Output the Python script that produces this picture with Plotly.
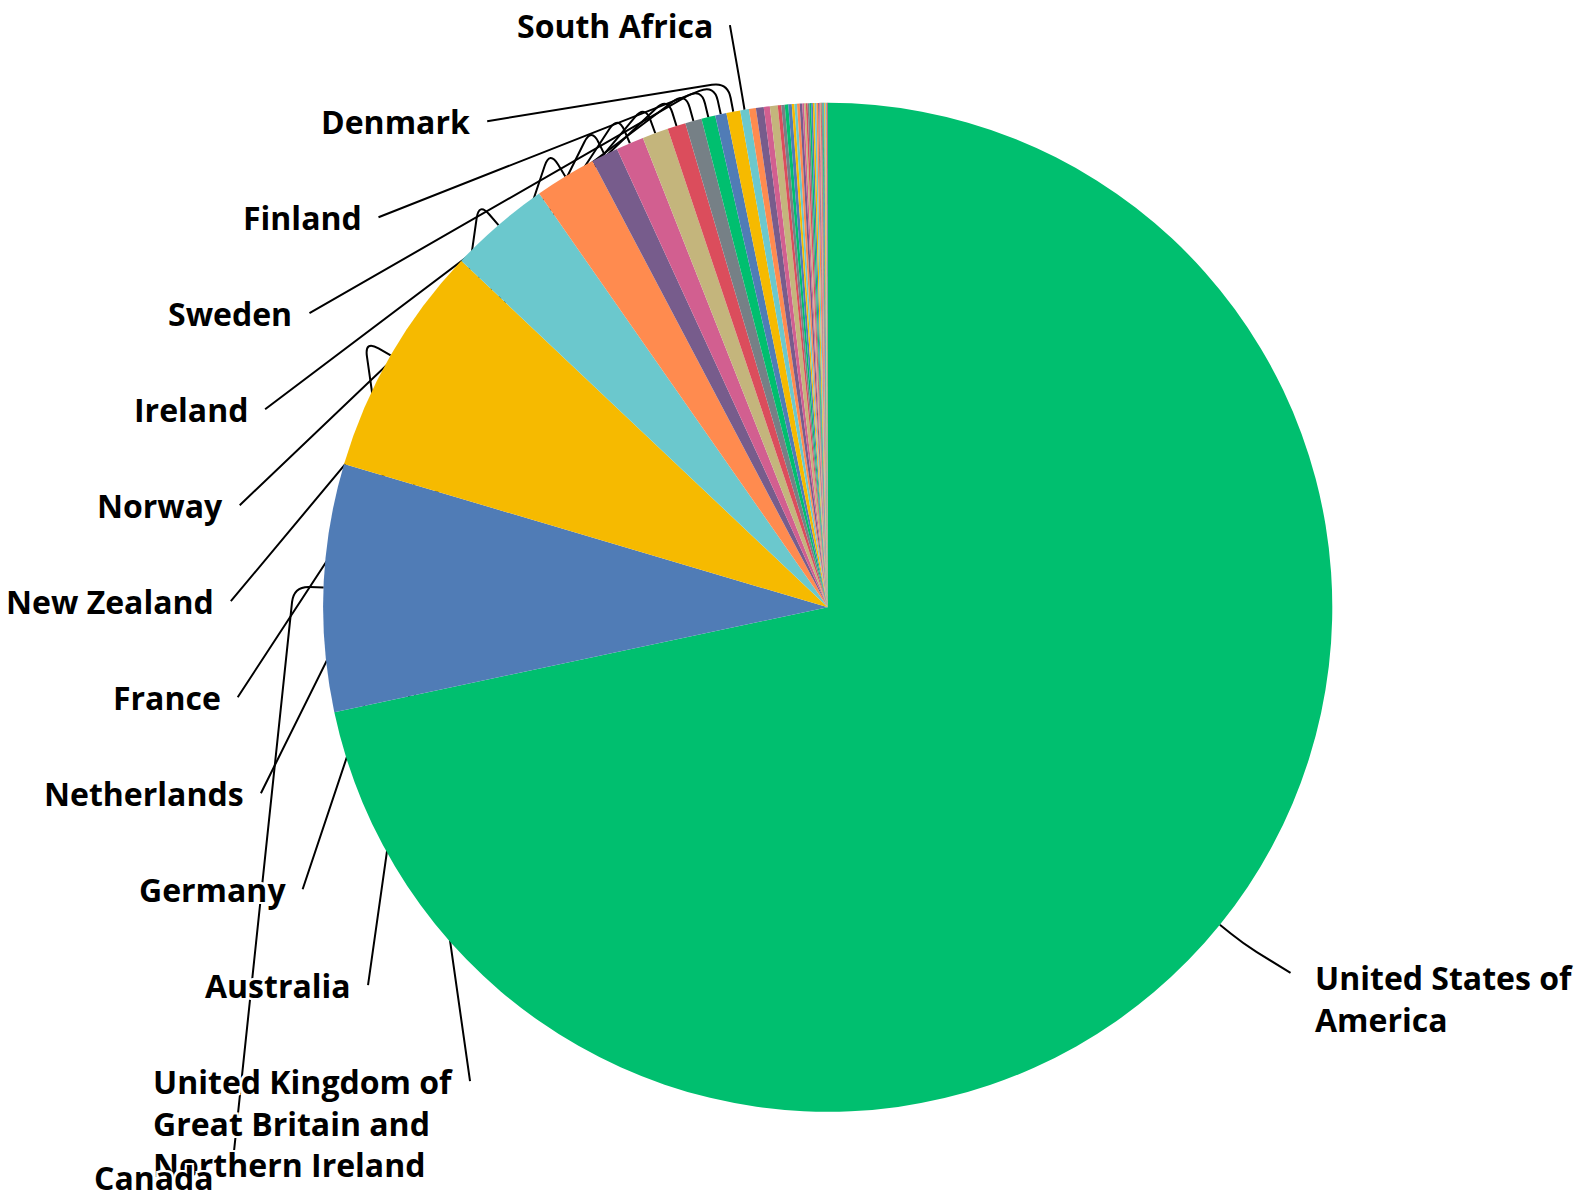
import math
import textwrap
import plotly.graph_objects as go

# ---------------- data ----------------
labelled_countries = [
    "United States of America",
    "Canada",
    "United Kingdom of Great Britain and Northern Ireland",
    "Australia",
    "Germany",
    "Netherlands",
    "France",
    "New Zealand",
    "Norway",
    "Ireland",
    "Sweden",
    "Finland",
    "Denmark",
    "South Africa",
]
labelled_values = [2580, 285, 269, 117, 71, 31, 32, 30, 21, 19, 16, 13, 16, 10]

# small slices whose labels are not shown in the chart (names not readable)
small_values = [8, 9, 7, 9, 4, 4, 4, 4, 3, 3, 3, 3,
                2, 2, 2, 2, 2, 2, 2, 2, 2,
                1, 1, 1, 1, 1, 1, 1, 1, 1, 1, 1]
small_countries = [f"Other country {i + 1}" for i in range(len(small_values))]

countries = labelled_countries + small_countries
values = labelled_values + small_values

PALETTE = ["#00BF6F", "#507CB6", "#F6BA00", "#6BC8CD", "#FF8B4F",
           "#775C8C", "#D25F90", "#C4B57C", "#DB4D5C", "#768086"]

# ---------------- layout constants ----------------
W, H = 1579, 1201
CX, CY, R = 827.8, 607.3, 504.5      # pie centre / radius in px
R_LABEL = 589                         # label guide circle
LEN1 = 30                             # first (radial) leader segment
TEXT_GAP = 23
LINE_GAP = 15
LABEL_TOP = 25.2
LABEL_STEP = 96.0
FONT_SIZE = 32
LINE_H = 1.3 * FONT_SIZE
MIN_LABEL_VALUE = 10
WRAP = 17
CORNER = 16                           # smoothing of the leader-line corner

colors = [PALETTE[i % len(PALETTE)] for i in range(len(values))]


def px(x, y):
    return x / W, 1 - y / H


fig = go.Figure(go.Pie(
    labels=countries,
    values=values,
    sort=False,
    direction="clockwise",
    rotation=0,
    marker=dict(colors=colors, line=dict(width=0)),
    textinfo="none",
    hoverinfo="label+value+percent",
    domain=dict(x=[(CX - R) / W, (CX + R) / W], y=[1 - (CY + R) / H, 1 - (CY - R) / H]),
    showlegend=False,
))

# mid angles (clockwise from 12 o'clock)
total = sum(values)
mids = []
cum = 0
for v in values:
    mids.append((cum + v / 2) / total * 360)
    cum += v

shown = [i for i, v in enumerate(values) if v >= MIN_LABEL_VALUE]
left = sorted([i for i in shown if mids[i] >= 180], key=lambda i: -mids[i])
right = [i for i in shown if mids[i] < 180]

font = dict(family="'Open Sans', Lato, sans-serif", size=FONT_SIZE, color="#000000", weight=700,
            shadow="2px 0px 0px #fff, -2px 0px 0px #fff, 0px 2px 0px #fff, 0px -2px 0px #fff, "
                   "2px 2px 0px #fff, -2px -2px 0px #fff, 2px -2px 0px #fff, -2px 2px 0px #fff")

shapes = []
annotations = []


def leader(i, C):
    th = math.radians(mids[i])
    ux, uy = math.sin(th), -math.cos(th)
    A = (CX + R * ux, CY + R * uy)
    B = (CX + (R + LEN1) * ux, CY + (R + LEN1) * uy)
    vx, vy = C[0] - B[0], C[1] - B[1]
    d = math.hypot(vx, vy) or 1
    s = min(CORNER, d / 2, LEN1 * 0.6)
    P1 = (B[0] - ux * s, B[1] - uy * s)
    P2 = (B[0] + vx / d * s, B[1] + vy / d * s)
    pts = [px(*A), px(*P1), px(*B), px(*P2), px(*C)]
    path = ("M {:.5f},{:.5f} L {:.5f},{:.5f} Q {:.5f},{:.5f} {:.5f},{:.5f} L {:.5f},{:.5f}"
            .format(*[c for p in pts for c in p]))
    shapes.append(dict(type="path", path=path, xref="paper", yref="paper",
                       line=dict(color="#000000", width=2), layer="below"))


for k, i in enumerate(left):
    lines = textwrap.wrap(countries[i], WRAP)
    y = LABEL_TOP + k * LABEL_STEP
    th = math.radians(mids[i])
    dyl = y - CY
    if y > CY + R:
        xr = CX + R_LABEL * math.sin(th) - TEXT_GAP
    else:
        xr = CX - math.sqrt(max(R_LABEL ** 2 - dyl ** 2, 0)) - TEXT_GAP
    leader(i, (xr + LINE_GAP, y))
    ax, ay = px(xr, y + (len(lines) - 1) * LINE_H / 2)
    annotations.append(dict(text="<br>".join(lines), x=ax, y=ay, xref="paper", yref="paper",
                            xanchor="right", yanchor="middle", align="left",
                            showarrow=False, font=font))

for i in right:
    lines = textwrap.wrap(countries[i], WRAP)
    th = math.radians(mids[i])
    y = CY - R_LABEL * math.cos(th)
    dyl = y - CY
    xl = CX + math.sqrt(max(R_LABEL ** 2 - dyl ** 2, 0)) + TEXT_GAP
    leader(i, (xl - LINE_GAP - 3, y - 5))
    ax, ay = px(xl + 4, y + (len(lines) - 1) * LINE_H / 2)
    annotations.append(dict(text="<br>".join(lines), x=ax, y=ay, xref="paper", yref="paper",
                            xanchor="left", yanchor="middle", align="left",
                            showarrow=False, font=font))

fig.update_layout(
    width=W, height=H,
    margin=dict(l=0, r=0, t=0, b=0),
    paper_bgcolor="#ffffff",
    plot_bgcolor="#ffffff",
    shapes=shapes,
    annotations=annotations,
)

fig.write_html("out.html", config={"displayModeBar": False},
               post_script="document.body.style.margin='0';document.body.style.overflow='hidden';")
